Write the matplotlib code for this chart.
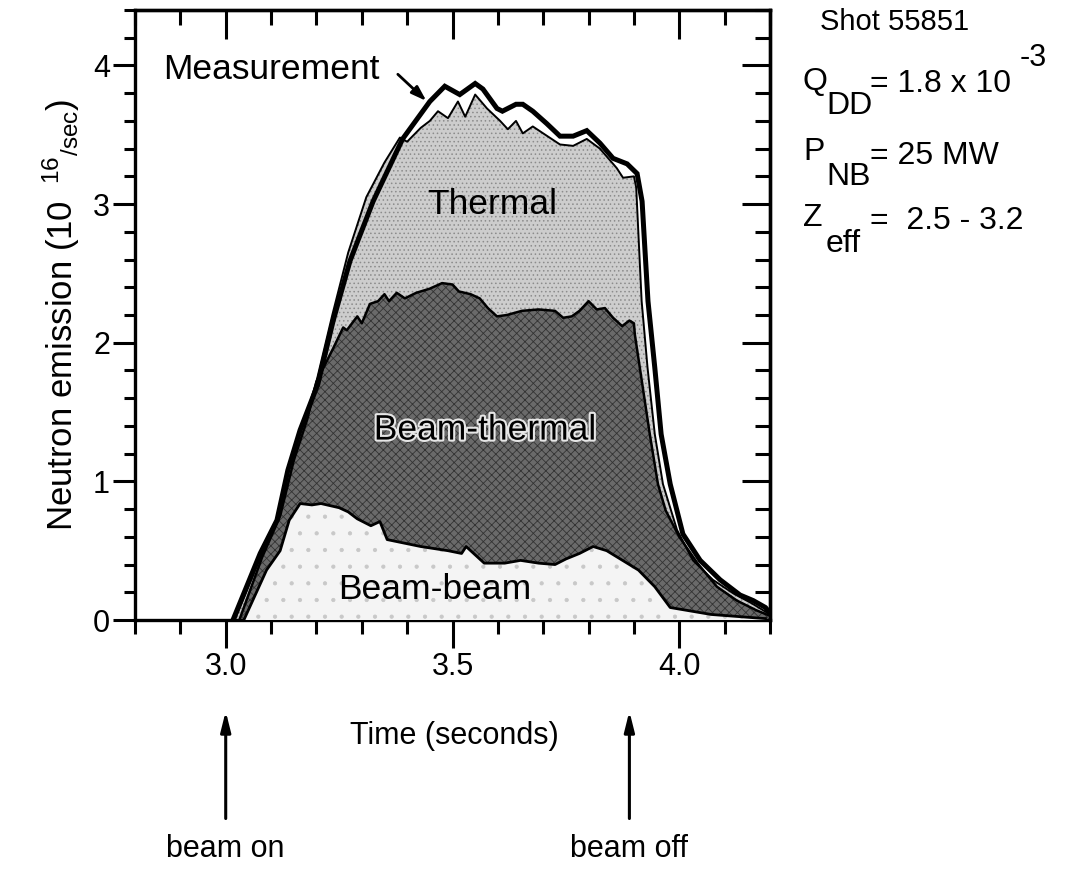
import numpy as np
import matplotlib
matplotlib.use("Agg")
import matplotlib.pyplot as plt
import matplotlib.patheffects as pe
from matplotlib.ticker import MultipleLocator

plt.rcParams["font.family"] = ["Liberation Sans", "DejaVu Sans"]
plt.rcParams["mathtext.fontset"] = "custom"
plt.rcParams["mathtext.rm"] = "Liberation Sans"
plt.rcParams["mathtext.it"] = "Liberation Sans:italic"
plt.rcParams["hatch.linewidth"] = 0.6

# Measured neutron emission (10^16 /sec)
t_meas = [3.016, 3.076, 3.113, 3.137, 3.164, 3.203, 3.237, 3.274, 3.325, 3.39,
          3.45, 3.483, 3.516, 3.55, 3.567, 3.598, 3.61, 3.64, 3.655, 3.677,
          3.708, 3.737, 3.766, 3.796, 3.825, 3.854, 3.885, 3.907, 3.918, 3.931,
          3.946, 3.96, 3.98, 4.008, 4.046, 4.09, 4.134, 4.163, 4.19, 4.20]
y_meas = [0.0, 0.48, 0.72, 1.08, 1.37, 1.70, 2.16, 2.59, 3.02, 3.47,
          3.74, 3.85, 3.79, 3.87, 3.83, 3.69, 3.67, 3.72, 3.72, 3.67,
          3.58, 3.49, 3.49, 3.53, 3.44, 3.33, 3.29, 3.22, 3.02, 2.30,
          1.82, 1.34, 0.98, 0.62, 0.43, 0.29, 0.18, 0.14, 0.09, 0.05]

# Calculated total = thermal + beam-thermal + beam-beam
t_total = [3.02, 3.07, 3.11, 3.14, 3.17, 3.20, 3.235, 3.27, 3.31, 3.35,
           3.384, 3.40, 3.43, 3.45, 3.468, 3.49, 3.512, 3.528, 3.55, 3.576,
           3.605, 3.622, 3.64, 3.655, 3.677, 3.70, 3.737, 3.766, 3.796, 3.825,
           3.862, 3.876, 3.90, 3.905, 3.917, 3.93, 3.946, 3.964, 3.995, 4.03,
           4.074, 4.12, 4.16, 4.20]
y_total = [0.0, 0.40, 0.70, 1.10, 1.40, 1.72, 2.20, 2.65, 3.05, 3.30,
           3.48, 3.45, 3.55, 3.60, 3.67, 3.62, 3.74, 3.63, 3.79, 3.69,
           3.60, 3.54, 3.60, 3.51, 3.56, 3.51, 3.43, 3.42, 3.47, 3.40,
           3.26, 3.19, 3.20, 3.12, 2.30, 1.82, 1.34, 0.98, 0.65, 0.43,
           0.29, 0.19, 0.12, 0.04]

# Beam-thermal + beam-beam
t_bt = [3.03, 3.08, 3.12, 3.15, 3.18, 3.20, 3.237, 3.259, 3.267, 3.29,
        3.30, 3.318, 3.336, 3.35, 3.36, 3.377, 3.395, 3.42, 3.45, 3.477,
        3.50, 3.514, 3.54, 3.56, 3.578, 3.598, 3.62, 3.653, 3.69, 3.726,
        3.744, 3.763, 3.78, 3.80, 3.818, 3.836, 3.854, 3.874, 3.89, 3.90,
        3.902, 3.913, 3.935, 3.953, 3.97, 4.00, 4.04, 4.083, 4.127, 4.17, 4.20]
y_bt = [0.0, 0.45, 0.75, 1.15, 1.45, 1.72, 1.96, 2.11, 2.09, 2.19,
        2.14, 2.28, 2.30, 2.35, 2.30, 2.36, 2.32, 2.36, 2.39, 2.43,
        2.42, 2.37, 2.35, 2.32, 2.25, 2.19, 2.20, 2.23, 2.24, 2.23,
        2.18, 2.19, 2.23, 2.30, 2.24, 2.25, 2.18, 2.12, 2.16, 2.14,
        2.06, 1.82, 1.34, 0.98, 0.79, 0.60, 0.41, 0.24, 0.14, 0.07, 0.03]

# Beam-beam
t_bb = [3.04, 3.09, 3.12, 3.14, 3.164, 3.19, 3.21, 3.25, 3.27, 3.29,
        3.32, 3.34, 3.356, 3.43, 3.49, 3.52, 3.53, 3.55, 3.57, 3.615,
        3.65, 3.69, 3.726, 3.75, 3.78, 3.81, 3.84, 3.875, 3.91, 3.946,
        3.98, 4.07, 4.19]
y_bb = [0.0, 0.36, 0.50, 0.72, 0.84, 0.83, 0.84, 0.81, 0.78, 0.73,
        0.68, 0.71, 0.58, 0.53, 0.50, 0.48, 0.53, 0.47, 0.41, 0.41,
        0.43, 0.41, 0.40, 0.44, 0.48, 0.53, 0.50, 0.43, 0.36, 0.24,
        0.09, 0.04, 0.01]

beam_on, beam_off = 3.0, 3.89

fig = plt.figure(figsize=(10.9, 8.73), dpi=100)
ax = fig.add_axes([135 / 1090, 253 / 873, 635 / 1090, 610 / 873])

# stacked areas, each filled down to zero and layered
ax.fill_between(t_total, y_total, 0, facecolor="#cdcdcd", edgecolor="#8c8c8c",
                hatch="....", linewidth=0, zorder=1)
ax.fill_between(t_bt, y_bt, 0, facecolor="#6a6a6a", edgecolor="#333333",
                hatch="xxxx", linewidth=0, zorder=2)
ax.fill_between(t_bb, y_bb, 0, facecolor="#f4f4f4", edgecolor="#c8c8c8",
                hatch=".", linewidth=0, zorder=3)

ax.plot(t_total, y_total, color="black", lw=1.4, zorder=4)
ax.plot(t_bt, y_bt, color="black", lw=1.8, zorder=4)
ax.plot(t_bb, y_bb, color="black", lw=2.0, zorder=4)
ax.plot(t_meas, y_meas, color="black", lw=3.6, solid_joinstyle="miter", zorder=5)

ax.set_xlim(2.8, 4.2)
ax.set_ylim(0, 4.4)

ax.xaxis.set_minor_locator(MultipleLocator(0.1))
ax.yaxis.set_major_locator(MultipleLocator(1))
ax.yaxis.set_minor_locator(MultipleLocator(0.2))
ax.set_xticks([3.0, 3.5, 4.0])
ax.set_xticklabels(["3.0", "3.5", "4.0"])

for s in ax.spines.values():
    s.set_linewidth(2.4)

ax.tick_params(axis="x", which="major", direction="out", length=20, width=2.2,
               pad=3, labelsize=22)
ax.tick_params(axis="x", which="minor", direction="out", length=10, width=2.2)
ax.tick_params(axis="y", which="major", direction="out", length=16, width=2.2,
               pad=2, labelsize=22)
ax.tick_params(axis="y", which="minor", direction="out", length=8, width=2.2)

# inward ticks on the top and right frame
top = ax.secondary_xaxis("top")
top.xaxis.set_major_locator(MultipleLocator(0.5))
top.xaxis.set_minor_locator(MultipleLocator(0.1))
top.tick_params(which="major", direction="in", length=21, width=2.2, labeltop=False)
top.tick_params(which="minor", direction="in", length=11, width=2.2)
right = ax.secondary_yaxis("right")
right.yaxis.set_major_locator(MultipleLocator(1))
right.yaxis.set_minor_locator(MultipleLocator(0.2))
right.tick_params(which="major", direction="in", length=20, width=2.2, labelright=False)
right.tick_params(which="minor", direction="in", length=11, width=2.2)
for sa in (top, right):
    for s in sa.spines.values():
        s.set_linewidth(2.4)

ax.set_ylabel(r"Neutron emission (10 $^{\ 16}$$_{/\mathrm{sec}}$)", fontsize=25,
              labelpad=8)

# region labels
ax.text(3.587, 3.0, "Thermal", fontsize=25.5, ha="center", va="center", zorder=6)
ax.text(3.572, 1.37, "Beam-thermal", fontsize=25.5, ha="center", va="center", zorder=6,
        path_effects=[pe.withStroke(linewidth=3, foreground="#e6e6e6")])
ax.text(3.461, 0.22, "Beam-beam", fontsize=25.5, ha="center", va="center", zorder=6)
ax.text(2.862, 3.97, "Measurement", fontsize=25.5, ha="left", va="center", zorder=6)
ax.annotate("", xy=(3.447, 3.73), xytext=(3.375, 3.95),
            arrowprops=dict(arrowstyle="-|>,head_length=0.9,head_width=0.3",
                            color="black", lw=2.0), zorder=6)

# x label and beam timing arrows below the axis
ax.text(0.503, -0.19, "Time (seconds)", transform=ax.transAxes, fontsize=22,
        ha="center", va="center")
for tb, lab in ((beam_on, "beam on"), (beam_off, "beam off")):
    ax.annotate("", xy=(tb, -0.145), xytext=(tb, -0.33),
                xycoords=("data", "axes fraction"),
                textcoords=("data", "axes fraction"),
                arrowprops=dict(arrowstyle="-|>,head_length=1.2,head_width=0.3",
                                color="black", lw=2.2),
                annotation_clip=False)
    ax.text(tb, -0.375, lab, transform=ax.get_xaxis_transform(), fontsize=22,
            ha="center", va="center")

# shot parameters
def ftext(px, py, s, size=23):
    fig.text(px / 1090, 1 - py / 873, s, fontsize=size, ha="left", va="center")

ftext(820, 22, "Shot 55851", 21)
ftext(803, 82, "Q")
ftext(826, 106, "DD")
ftext(870, 84, "= 1.8 x 10", 23)
ftext(1020, 58, "-3", 22)
ftext(803, 152, "P")
ftext(826, 177, "NB")
ftext(870, 156, "= 25 MW", 23)
ftext(803, 218, "Z")
ftext(826, 244, "eff")
ftext(870, 221, "=  2.5 - 3.2", 23)

fig.savefig("out.png", dpi=100)
